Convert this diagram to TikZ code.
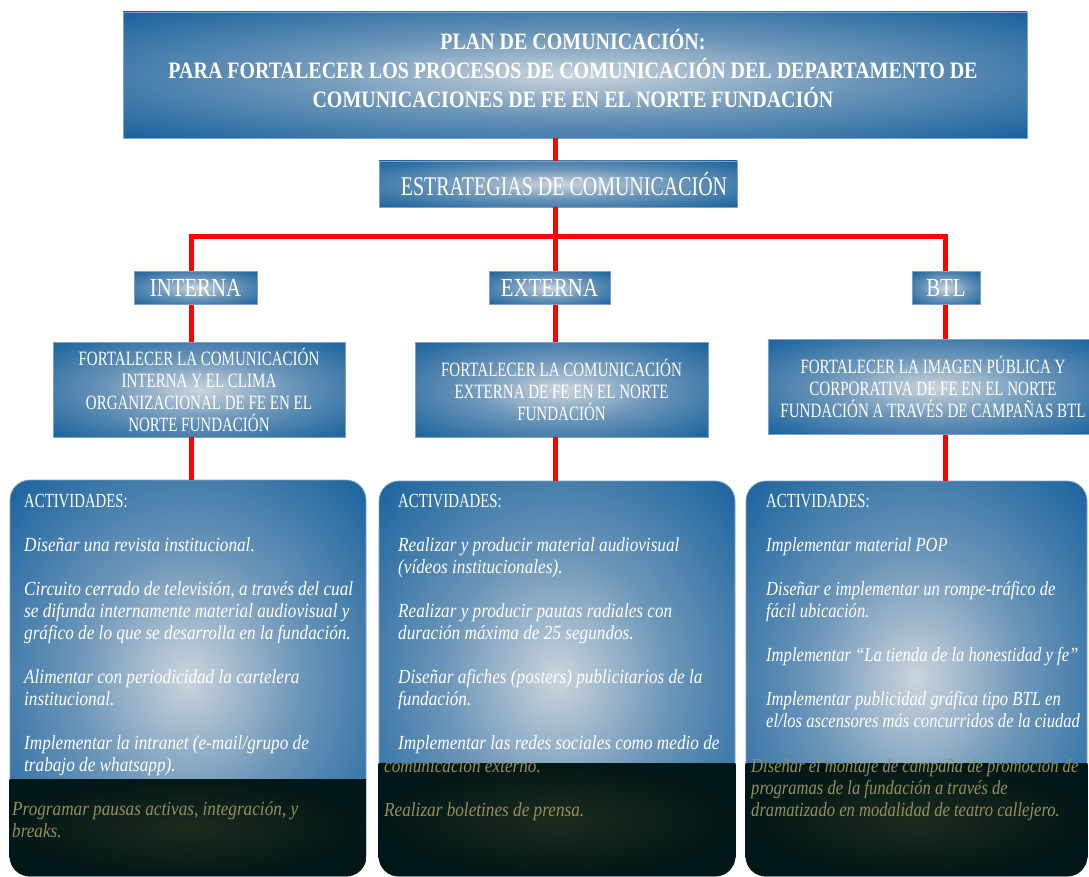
\documentclass[tikz,border=0pt]{standalone}
\usepackage{fontspec}
\setmainfont{Liberation Serif}
\newfontfamily\ttlfont[FakeStretch=0.85]{Liberation Serif}
\newfontfamily\capfont[FakeStretch=0.74]{Liberation Serif}
\newfontfamily\labfont[FakeStretch=0.8]{Liberation Serif}
\newfontfamily\actfont[FakeStretch=0.86]{Liberation Serif}
\newfontfamily\actfontb[FakeStretch=0.83]{Liberation Serif}
\definecolor{boxblue}{HTML}{0E5C9A}
\definecolor{midblue}{HTML}{6B95B8}
\definecolor{glowc}{HTML}{CBD4DC}
\definecolor{edgec}{HTML}{7EA3C6}
\definecolor{darkband}{HTML}{021717}
\definecolor{darkglow}{HTML}{1B2B1D}
\definecolor{khaki}{HTML}{948F5C}
\definecolor{linkred}{HTML}{FF0000}
\pgfdeclareradialshading{glow}{\pgfpoint{0bp}{0bp}}{color(0bp)=(glowc); color(16bp)=(midblue); color(38bp)=(boxblue); color(50bp)=(boxblue)}
\tikzset{
  bluebox/.style={draw=edgec, line width=0.8pt, shading=glow, inner sep=0pt, align=center, text=white},
  actbox/.style={bluebox, rounded corners=20pt},
  conn/.style={draw=linkred, line width=5pt},
  goaltext/.style={font=\capfont\fontsize{20.3}{22}\selectfont},
  labtext/.style={font=\labfont\fontsize{26}{28}\selectfont},
  acttext/.style={anchor=north west, inner sep=0pt, align=left, text=white, font=\actfont\fontsize{20}{22}\selectfont},
  acttextb/.style={acttext, font=\actfontb\fontsize{20}{22}\selectfont},
  bandtext/.style={acttext, text=khaki},
  bandtextb/.style={acttextb, text=khaki}
}
\newcommand{\hd}{{\upshape\capfont\fontsize{20}{22}\selectfont ACTIVIDADES:}}
\newcommand{\fs}{\rule{0pt}{16pt}}
\begin{document}
\begin{tikzpicture}[x=1pt,y=-1pt]
\useasboundingbox (0,0) rectangle (1089,877);
\fill[white] (0,0) rectangle (1089,877);
% title
\node[bluebox, minimum width=904, minimum height=126] (title) at (575,75) {};
\node[text=white, align=center, inner sep=0pt, font=\ttlfont\bfseries\fontsize{23.5}{29}\selectfont] (titletext) at (573,69)
  {PLAN DE COMUNICACIÓN:\\PARA FORTALECER LOS PROCESOS DE COMUNICACIÓN DEL DEPARTAMENTO DE\\COMUNICACIONES DE FE EN EL NORTE FUNDACIÓN};
\node[bluebox, minimum width=358, minimum height=46, font=\capfont\fontsize{27}{30}\selectfont] (strat) at (558,184) {\hspace{12pt}ESTRATEGIAS DE COMUNICACIÓN};
% level 2
\node[bluebox, minimum width=123, minimum height=33, labtext] (int) at (195.5,288) {INTERNA};
\node[bluebox, minimum width=121, minimum height=33, labtext] (ext) at (549.5,288) {EXTERNA};
\node[bluebox, minimum width=68, minimum height=33, labtext] (btl) at (946,288) {BTL};
% goals
\node[bluebox, minimum width=292, minimum height=95, goaltext] (g1) at (199,389.5)
  {FORTALECER LA COMUNICACIÓN\\INTERNA Y EL CLIMA\\ORGANIZACIONAL DE FE EN EL\\NORTE FUNDACIÓN};
\node[bluebox, minimum width=293, minimum height=95, goaltext] (g2) at (561.5,389.5)
  {FORTALECER LA COMUNICACIÓN\\EXTERNA DE FE EN EL NORTE\\FUNDACIÓN};
\node[bluebox, minimum width=330, minimum height=95, goaltext] (g3) at (933,387)
  {FORTALECER LA IMAGEN PÚBLICA Y\\CORPORATIVA DE FE EN EL NORTE\\FUNDACIÓN A TRAVÉS DE CAMPAÑAS BTL};
% activity boxes
\node[actbox, minimum width=356, minimum height=396] (a1) at (188,678) {};
\node[actbox, minimum width=356, minimum height=395] (a2) at (557,678.5) {};
\node[actbox, minimum width=341, minimum height=395] (a3) at (916.5,678.5) {};
% dark bands
\begin{scope}
  \clip[rounded corners=20pt] (a1.north west) rectangle (a1.south east);
  \shade[inner color=darkglow, outer color=darkband] (a1.west |- 0,779) rectangle (a1.south east);
\end{scope}
\begin{scope}
  \clip[rounded corners=20pt] (a2.north west) rectangle (a2.south east);
  \shade[inner color=darkglow, outer color=darkband] (a2.west |- 0,763) rectangle (a2.south east);
\end{scope}
\begin{scope}
  \clip[rounded corners=20pt] (a3.north west) rectangle (a3.south east);
  \shade[inner color=darkglow, outer color=darkband] (a3.west |- 0,763) rectangle (a3.south east);
\end{scope}
% connectors
\coordinate (hub) at (555,237);
\coordinate (jl) at (191,237);
\coordinate (jr) at (945,237);
\draw[conn] (title.south -| hub) -- (strat.north -| hub);
\draw[conn] (strat.south -| hub) -- (hub);
\draw[conn] (int.north -| jl) -- (jl) -- (jr) -- (btl.north -| jr);
\draw[conn] (hub) -- (ext.north -| hub);
\draw[conn] (int.south -| jl) -- (g1.north -| jl);
\draw[conn] (ext.south -| hub) -- (g2.north -| hub);
\draw[conn] (btl.south -| jr) -- (g3.north -| jr);
\draw[conn] (g1.south -| jl) -- (a1.north -| jl);
\draw[conn] (g2.south -| hub) -- (a2.north -| hub);
\draw[conn] (g3.south -| jr) -- (a3.north -| jr);
% activity texts
\node[acttext] (t1) at (24,491) {\fs\hd\\[22pt]
\itshape Diseñar una revista institucional.\\[22pt]
\itshape Circuito cerrado de televisión, a través del cual\\
\itshape se difunda internamente material audiovisual y\\
\itshape gráfico de lo que se desarrolla en la fundación.\\[22pt]
\itshape Alimentar con periodicidad la cartelera\\
\itshape institucional.\\[22pt]
\itshape Implementar la intranet (e-mail/grupo de\\
\itshape trabajo de whatsapp).};
\node[bandtext] (b1) at (12,799) {\fs\itshape Programar pausas activas, integración, y\\
\itshape breaks.};
\node[acttext] (t2) at (398,491) {\fs\hd\\[22pt]
\itshape Realizar y producir material audiovisual\\
\itshape (vídeos institucionales).\\[22pt]
\itshape Realizar y producir pautas radiales con\\
\itshape duración máxima de 25 segundos.\\[22pt]
\itshape Diseñar afiches (posters) publicitarios de la\\
\itshape fundación.\\[22pt]
\itshape Implementar las redes sociales como medio de};
\node[bandtext] (b2) at (384,756) {\fs\itshape comunicación externo.\\[22pt]
\itshape Realizar boletines de prensa.};
\node[acttextb] (t3) at (766,491) {\fs\hd\\[22pt]
\itshape Implementar material POP\\[22pt]
\itshape Diseñar e implementar un rompe-tráfico de\\
\itshape fácil ubicación.\\[22pt]
\itshape Implementar “La tienda de la honestidad y fe”\\[22pt]
\itshape Implementar publicidad gráfica tipo BTL en\\
\itshape el/los ascensores más concurridos de la ciudad};
\node[bandtextb] (b3) at (751,756) {\fs\itshape Diseñar el montaje de campaña de promoción de\\
\itshape programas de la fundación a través de\\
\itshape dramatizado en modalidad de teatro callejero.};
\end{tikzpicture}
\end{document}
